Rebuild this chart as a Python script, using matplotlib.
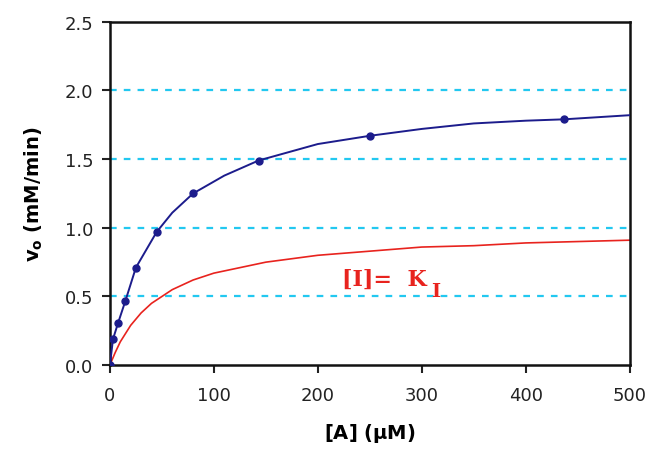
import matplotlib
matplotlib.use('Agg')
import numpy as np
from matplotlib import pyplot as plt

# measured points (blue markers)
conc_pts = [0, 3, 8, 15, 25, 45, 80, 143, 250, 437]
v_pts = [0.0, 0.19, 0.31, 0.47, 0.71, 0.97, 1.25, 1.49, 1.67, 1.79]

# blue fitted curve
conc_fit = [0, 3, 8, 15, 25, 45, 60, 80, 110, 143, 200, 250, 300, 350, 400, 437, 500]
v_fit = [0.0, 0.19, 0.31, 0.47, 0.71, 0.97, 1.11, 1.25, 1.38, 1.49, 1.61, 1.67,
         1.72, 1.76, 1.78, 1.79, 1.82]

# red curve, with inhibitor
conc_inh = [0, 5, 10, 20, 30, 40, 50, 60, 80, 100, 150, 200, 250, 300, 350, 400, 450, 500]
v_inh = [0.0, 0.09, 0.17, 0.29, 0.38, 0.45, 0.50, 0.55, 0.62, 0.67, 0.75, 0.80,
         0.83, 0.86, 0.87, 0.89, 0.90, 0.91]

xticks = [0, 100, 200, 300, 400, 500]
yticks = [0.0, 0.5, 1.0, 1.5, 2.0, 2.5]

blue = '#1c1c8c'
red = '#e8231e'

fig = plt.figure(figsize=(6.58, 4.56), dpi=100)
ax = fig.add_axes([0.167, 0.197, 0.79, 0.753])

for y in yticks[1:-1]:
    ax.axhline(y, color='#22c8f0', lw=1.6, ls=(0, (3, 3.2)), zorder=1)

ax.plot(conc_inh, v_inh, color=red, lw=1.2, zorder=2)
ax.plot(conc_fit, v_fit, color=blue, lw=1.4, zorder=3)
ax.plot(conc_pts, v_pts, 'o', color=blue, ms=5, zorder=4)

# label for the inhibited curve
ax.text(223, 0.63, '[I]=  K', color=red, fontsize=16,
        fontweight='bold', family='DejaVu Serif', va='center', ha='left')
ax.text(309, 0.54, 'I', color=red, fontsize=14,
        fontweight='bold', family='DejaVu Serif', va='center', ha='left')

ax.set_xlim(0, 500)
ax.set_ylim(0, 2.5)
ax.set_xticks(xticks)
ax.set_yticks(yticks)
ax.set_xticklabels([str(t) for t in xticks])
ax.set_yticklabels(['%.1f' % t for t in yticks])
ax.tick_params(direction='out', length=6, width=1.5, labelsize=13, colors='#222222',
               pad=6)
ax.tick_params(axis='x', pad=9)
for s in ax.spines.values():
    s.set_linewidth(1.8)
    s.set_color('#111111')

ax.set_xlabel(r'[A] ($\mathbf{\mu}$M)', fontsize=14, fontweight='bold', labelpad=12)
ax.set_ylabel(r'v$_\mathbf{o}$ (mM/min)', fontsize=14, fontweight='bold', labelpad=14)

fig.savefig('out.png', dpi=100)
